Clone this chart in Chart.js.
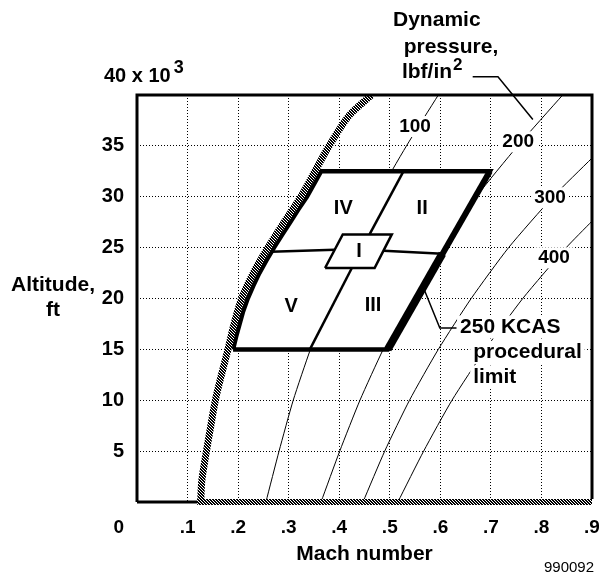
<!DOCTYPE html>
<html>
<head>
<meta charset="utf-8">
<script src="https://cdn.jsdelivr.net/npm/chart.js@4.4.1/dist/chart.umd.min.js"></script>
<style>
  html, body { margin: 0; padding: 0; background: #fff; }
  #wrap { width: 599px; height: 574px; }
</style>
</head>
<body>
<div id="wrap"><canvas id="chart" width="599" height="574"></canvas></div>
<script>
/* ================= DATA ================= */
// altitude in thousands of ft, x = Mach
const qAlt = [0, 5, 10, 15, 20, 25, 30, 35, 40];
const q100 = [0.255, 0.281, 0.309, 0.343, 0.381, 0.425, 0.475, 0.533, 0.596];
const q200 = [0.364, 0.401, 0.441, 0.487, 0.539, 0.600, 0.671, 0.753, 0.842];
// 300 and 400 run out through the right edge
const q300Alt = [0, 5, 10, 15, 20, 25, 30, 33.8];
const q300 = [0.447, 0.490, 0.539, 0.596, 0.661, 0.735, 0.823, 0.9];
const q400Alt = [0, 5, 10, 15, 20, 25, 27.6];
const q400 = [0.516, 0.567, 0.623, 0.689, 0.763, 0.849, 0.9];

// hatched low speed boundary + ground line
const limitMach = [0.126, 0.128, 0.134, 0.146, 0.155, 0.167, 0.180, 0.192, 0.207, 0.230, 0.259, 0.291, 0.324, 0.352, 0.380, 0.420, 0.464];
const limitAlt  = [0, 2, 4, 7.5, 10, 12.5, 15, 17.5, 20, 22.5, 25, 27.5, 30, 32.5, 35, 38, 40];
const groundMach = [0.119, 0.9];
const groundAlt = [0, 0];
const axisMach = [0, 0.121];

// test envelope
const boxMach = [0.190, 0.496, 0.698, 0.364, 0.350, 0.336, 0.319, 0.303, 0.287, 0.271, 0.256, 0.242, 0.230, 0.219, 0.210, 0.203, 0.196, 0.190];
const boxAlt  = [15, 15, 32.5, 32.5, 31.25, 30, 28.75, 27.5, 26.25, 25, 23.75, 22.5, 21.25, 20, 18.75, 17.5, 16.25, 15];
const cellMach = [0.372, 0.470, 0.504, 0.407, 0.372];
const cellAlt  = [23.0, 23.0, 26.3, 26.3, 23.0];
const splitLeftMach = [0.265, 0.391], splitLeftAlt = [24.6, 24.8];
const splitRightMach = [0.488, 0.604], splitRightAlt = [24.7, 24.4];
const diagLowMach = [0.342, 0.425], diagLowAlt = [15, 23];
const diagHighMach = [0.460, 0.527], diagHighAlt = [26.3, 32.5];
const kcasMach = [0.496, 0.604], kcasAlt = [15, 24.4];
const kcasLeadMach = [0.567, 0.599, 0.632], kcasLeadAlt = [21.0, 17.1, 17.1];
const qLeadMach = [0.664, 0.714, 0.783], qLeadAlt = [41.8, 41.8, 37.6];

const xTicks = [0, 0.1, 0.2, 0.3, 0.4, 0.5, 0.6, 0.7, 0.8, 0.9];
const yTicks = [0, 5, 10, 15, 20, 25, 30, 35, 40];

/* ================= HELPERS ================= */
const FONT = "'Liberation Sans', Arial, Helvetica, sans-serif";

function pts(xs, ys) {
  return xs.map((x, i) => ({ x: x, y: ys[i] }));
}

function line(xs, ys, width, extra) {
  return Object.assign({
    data: pts(xs, ys),
    showLine: true,
    borderColor: "#000",
    borderWidth: width,
    pointRadius: 0,
    tension: 0,
    fill: false
  }, extra || {});
}

function makeHatch() {
  const c = document.createElement("canvas");
  c.width = 3; c.height = 3;
  const g = c.getContext("2d");
  const img = g.createImageData(3, 3);
  for (let yy = 0; yy < 3; yy++) {
    for (let xx = 0; xx < 3; xx++) {
      const k = (yy * 3 + xx) * 4;
      const on = ((xx - yy + 3) % 3) !== 0;
      const v = on ? 0 : 255;
      img.data[k] = v; img.data[k + 1] = v; img.data[k + 2] = v; img.data[k + 3] = 255;
    }
  }
  g.putImageData(img, 0, 0);
  return g.createPattern(c, "repeat");
}

const hatch = makeHatch();

/* ================= LABELS ================= */
const notes = [
  { t: "Dynamic", m: 0.593, a: 47.4, align: "center", size: 21 },
  { t: "pressure,", m: 0.621, a: 44.7, align: "center", size: 21 },
  { t: "100", m: 0.550, a: 36.9, align: "center", size: 19, bg: true },
  { t: "200", m: 0.754, a: 35.4, align: "center", size: 19, bg: true },
  { t: "300", m: 0.817, a: 29.9, align: "center", size: 19, bg: true },
  { t: "400", m: 0.825, a: 24.0, align: "center", size: 19, bg: true },
  { t: "250 KCAS", m: 0.639, a: 17.2, align: "left", size: 21, bg: true },
  { t: "procedural", m: 0.665, a: 14.7, align: "left", size: 21, bg: true },
  { t: "limit", m: 0.665, a: 12.3, align: "left", size: 21, bg: true },
  { t: "IV", m: 0.408, a: 28.8, align: "center", size: 20 },
  { t: "II", m: 0.564, a: 28.8, align: "center", size: 20 },
  { t: "I", m: 0.439, a: 24.6, align: "center", size: 20 },
  { t: "V", m: 0.305, a: 19.2, align: "center", size: 20 },
  { t: "III", m: 0.467, a: 19.3, align: "center", size: 20 }
];

function put(ctx, t, px, py, align, size, bg, weight) {
  ctx.font = (weight || "bold") + " " + size + "px " + FONT;
  ctx.textAlign = align;
  ctx.textBaseline = "middle";
  if (bg) {
    const w = ctx.measureText(t).width;
    const x0 = align === "left" ? px : align === "right" ? px - w : px - w / 2;
    ctx.fillStyle = "#fff";
    ctx.fillRect(x0 - 3, py - size / 2 - 1, w + 6, size + 2);
  }
  ctx.fillStyle = "#000";
  ctx.fillText(t, px, py);
}

const notesPlugin = {
  id: "notes",
  afterDatasetsDraw(chart) {
    const { ctx, chartArea: a } = chart;
    const x = chart.scales.x, y = chart.scales.y;
    ctx.save();

    // frame
    ctx.strokeStyle = "#000";
    ctx.lineWidth = 3;
    ctx.lineJoin = "miter";
    ctx.beginPath();
    ctx.moveTo(a.left, a.bottom);
    ctx.lineTo(a.left, a.top);
    ctx.lineTo(a.right, a.top);
    ctx.lineTo(a.right, a.bottom - 3);
    ctx.stroke();

    notes.forEach(n => {
      put(ctx, n.t, x.getPixelForValue(n.m), y.getPixelForValue(n.a), n.align, n.size, n.bg);
    });

    // lbf/in^2
    const lx = x.getPixelForValue(0.524), ly = y.getPixelForValue(42.2);
    put(ctx, "lbf/in", lx, ly, "left", 21);
    ctx.font = "bold 21px " + FONT;
    const lw = ctx.measureText("lbf/in").width;
    put(ctx, "2", lx + lw + 1, ly - 7, "left", 17);

    // 40 x 10^3
    const tx = a.left - 33, ty = a.top - 19;
    put(ctx, "40 x 10", tx, ty, "left", 20);
    ctx.font = "bold 20px " + FONT;
    const tw = ctx.measureText("40 x 10").width;
    put(ctx, "3", tx + tw + 3, ty - 8, "left", 18);

    // corner zero and axis titles
    put(ctx, "0", a.left - 13, a.bottom + 26, "right", 19);
    put(ctx, "Altitude,", a.left - 84, 285, "center", 21);
    put(ctx, "ft", a.left - 84, 310, "center", 21);
    put(ctx, "Mach number", (a.left + a.right) / 2, a.bottom + 52, "center", 21);
    put(ctx, "990092", a.right + 2, a.bottom + 66, "right", 15, false, "normal");

    ctx.restore();
  }
};

/* ================= CHART ================= */
Chart.defaults.font.family = FONT;
Chart.defaults.color = "#000";

const datasets = [
  line(kcasMach, kcasAlt, 8),
  line([boxMach[1], boxMach[2]], [boxAlt[1], boxAlt[2]], 6),
  line(cellMach, cellAlt, 2.5, { fill: "shape", backgroundColor: "#fff" }),
  line(splitLeftMach, splitLeftAlt, 2.5),
  line(splitRightMach, splitRightAlt, 2.5),
  line(diagLowMach, diagLowAlt, 2.5),
  line(diagHighMach, diagHighAlt, 2.5),
  line(kcasLeadMach, kcasLeadAlt, 1.5, { clip: false }),
  line(limitMach, limitAlt, 7, { borderColor: hatch, tension: 0.3 }),
  line(boxMach, boxAlt, 4.5, { fill: "shape", backgroundColor: "#fff" }),
  line(groundMach, groundAlt, 6, { borderColor: hatch, clip: false }),
  line(axisMach, [0, 0], 3, { clip: false }),
  line(qLeadMach, qLeadAlt, 1.5, { clip: false }),
  line(q100, qAlt, 1, { tension: 0.2 }),
  line(q200, qAlt, 1, { tension: 0.2 }),
  line(q300, q300Alt, 1, { tension: 0.2 }),
  line(q400, q400Alt, 1, { tension: 0.2 })
];

function gridColor(last) {
  return c => (c.index === 0 || c.index === last) ? "rgba(0,0,0,0)" : "#000";
}

new Chart(document.getElementById("chart"), {
  type: "scatter",
  data: { datasets: datasets },
  options: {
    responsive: false,
    animation: false,
    events: [],
    layout: { padding: { top: 95, right: 7, bottom: 0, left: 0 } },
    plugins: {
      legend: { display: false },
      tooltip: { enabled: false }
    },
    scales: {
      x: {
        type: "linear",
        min: 0,
        max: 0.9,
        afterBuildTicks: s => { s.ticks = xTicks.map(v => ({ value: v })); },
        afterFit: s => { s.height = 72; s.paddingLeft = 0; s.paddingRight = 0; },
        ticks: {
          autoSkip: false,
          maxRotation: 0,
          padding: 14,
          font: { size: 19, weight: "bold" },
          callback: v => (v === 0 ? "" : "." + Math.round(v * 10))
        },
        grid: { color: gridColor(xTicks.length - 1), lineWidth: 1, drawTicks: false },
        border: { display: false, dash: [1, 2] }
      },
      y: {
        type: "linear",
        min: 0,
        max: 40,
        afterBuildTicks: s => { s.ticks = yTicks.map(v => ({ value: v })); },
        afterFit: s => { s.width = 137; s.paddingTop = 0; s.paddingBottom = 0; },
        ticks: {
          autoSkip: false,
          padding: 13,
          font: { size: 20, weight: "bold" },
          callback: v => (v === 0 || v === 40 ? "" : String(v))
        },
        grid: { color: gridColor(yTicks.length - 1), lineWidth: 1, drawTicks: false },
        border: { display: false, dash: [1, 2] }
      }
    }
  },
  plugins: [notesPlugin]
});
</script>
</body>
</html>
